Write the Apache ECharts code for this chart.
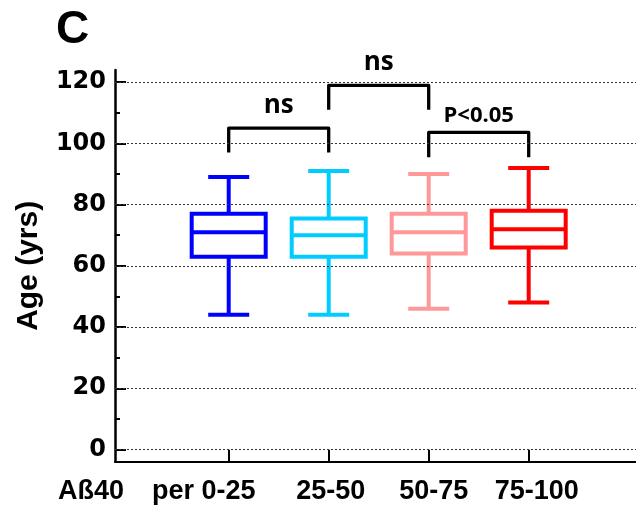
<!DOCTYPE html>
<html>
<head>
<meta charset="utf-8">
<script src="https://cdn.jsdelivr.net/npm/echarts@6/dist/echarts.min.js"></script>
<style>
html,body{margin:0;padding:0;background:#fff;}
#main{width:636px;height:510px;}
</style>
</head>
<body>
<div id="main"></div>
<script>
// ---- data ----
const categories = ['per 0-25', '25-50', '50-75', '75-100'];
const groupPos = [1, 2, 3, 4];
const boxColors = ['#0000FF', '#00CCFF', '#FF9999', '#FF0000'];
// [min, Q1, median, Q3, max]
const boxMin    = [44, 44, 46, 48];
const boxQ1     = [63, 63, 64, 66];
const boxMedian = [71, 70, 71, 72];
const boxQ3     = [77, 75.5, 77, 78];
const boxMax    = [89, 91, 90, 92];
const yTicks = [0, 20, 40, 60, 80, 100, 120];
const yMinorTicks = [10, 30, 50, 70, 90, 110];
// brackets: [from group, to group, leg bottom, top, label]
const bracketFrom  = [1, 2, 3];
const bracketTo    = [2, 3, 4];
const bracketLeg   = [97, 111, 95.5];
const bracketTop   = [105, 119, 103.6];
const bracketLabel = ['ns', 'ns', 'P<0.05'];

const boxData = groupPos.map((x, i) => [x, boxMin[i], boxQ1[i], boxMedian[i], boxQ3[i], boxMax[i]]);
const bracketData = bracketFrom.map((f, i) => [f, bracketTo[i], bracketLeg[i], bracketTop[i], bracketLabel[i]]);

const chart = echarts.init(document.getElementById('main'), null, {renderer: 'canvas'});

function renderBox(params, api) {
  const i = params.dataIndex;
  const x = api.value(0);
  const pMin = api.coord([x, api.value(1)]);
  const pQ1 = api.coord([x, api.value(2)]);
  const pMed = api.coord([x, api.value(3)]);
  const pQ3 = api.coord([x, api.value(4)]);
  const pMax = api.coord([x, api.value(5)]);
  const bw = api.size([0.74, 0])[0];
  const cw = api.size([0.41, 0])[0];
  const cx = pMed[0];
  const st = {stroke: boxColors[i], lineWidth: 4, fill: null};
  return {
    type: 'group',
    children: [
      {type: 'line', shape: {x1: cx, y1: pMax[1], x2: cx, y2: pQ3[1]}, style: st},
      {type: 'line', shape: {x1: cx, y1: pQ1[1], x2: cx, y2: pMin[1]}, style: st},
      {type: 'line', shape: {x1: cx - cw / 2, y1: pMax[1], x2: cx + cw / 2, y2: pMax[1]}, style: st},
      {type: 'line', shape: {x1: cx - cw / 2, y1: pMin[1], x2: cx + cw / 2, y2: pMin[1]}, style: st},
      {type: 'rect', shape: {x: cx - bw / 2, y: pQ3[1], width: bw, height: pQ1[1] - pQ3[1]}, style: {stroke: boxColors[i], lineWidth: 4, fill: '#fff'}},
      {type: 'line', shape: {x1: cx - bw / 2, y1: pMed[1], x2: cx + bw / 2, y2: pMed[1]}, style: st}
    ]
  };
}

function renderBracket(params, api) {
  const x1 = api.value(0), x2 = api.value(1), yl = api.value(2), yt = api.value(3);
  const a = api.coord([x1, yl]);
  const b = api.coord([x1, yt]);
  const c = api.coord([x2, yt]);
  const d = api.coord([x2, yl]);
  const label = bracketLabel[params.dataIndex];
  const isP = label.indexOf('P') === 0;
  return {
    type: 'group',
    children: [
      {type: 'polyline', shape: {points: [a, b, c, d]}, style: {stroke: '#000', lineWidth: 3.3, fill: null, lineJoin: 'round'}},
      {type: 'text', style: {
        x: (b[0] + c[0]) / 2, y: b[1] - (isP ? 6 : 10),
        text: label, align: 'center', verticalAlign: 'bottom',
        font: isP ? 'bold 22px "Open Sans"' : 'bold 26px "Open Sans"', fill: '#000'
      }}
    ]
  };
}

const labelRich = {fontFamily: '"Liberation Sans"', fontWeight: 'bold', fontSize: 27, color: '#000'};

const option = {
  animation: false,
  backgroundColor: '#fff',
  grid: {left: 115, right: 0, top: 70, bottom: 48.3, containLabel: false},
  xAxis: {
    type: 'value', min: -0.137, max: 5.073,
    axisLine: {show: true, onZero: false, lineStyle: {color: '#000', width: 2.2}},
    axisTick: {show: true, inside: true, length: 12, customValues: groupPos, lineStyle: {color: '#000', width: 2}},
    axisLabel: {
      show: true, customValues: groupPos, margin: 16,
      formatter: function (v) {
        const idx = groupPos.indexOf(v);
        const key = ['a', 'b', 'c', 'd'][idx];
        return '{' + key + '|' + categories[idx] + '}';
      },
      rich: {
        a: Object.assign({padding: [0, 50, 0, 0]}, labelRich),
        b: Object.assign({padding: [0, 0, 0, 4]}, labelRich),
        c: Object.assign({padding: [0, 0, 0, 10]}, labelRich),
        d: Object.assign({padding: [0, 0, 0, 16]}, labelRich)
      }
    },
    splitLine: {show: false}
  },
  yAxis: [{
    type: 'value', min: -4, max: 124, position: 'left',
    name: 'Age (yrs)', nameLocation: 'middle', nameGap: 71, nameRotate: 90,
    nameTextStyle: {fontFamily: '"Liberation Sans"', fontWeight: 'bold', fontSize: 30, color: '#000'},
    axisLine: {show: true, onZero: false, lineStyle: {color: '#000', width: 2.5}},
    axisTick: {show: true, inside: true, length: 11, customValues: yTicks, lineStyle: {color: '#000', width: 2}},
    axisLabel: {show: true, customValues: yTicks, margin: 9, fontFamily: '"DejaVu Sans"', fontWeight: 'bold', fontSize: 24, color: '#000'},
    splitLine: {show: false}
  }, {
    type: 'value', min: -4, max: 124, position: 'left', offset: 0,
    axisLine: {show: false, onZero: false},
    axisTick: {show: true, inside: true, length: 5, customValues: yMinorTicks, lineStyle: {color: '#000', width: 2}},
    axisLabel: {show: false},
    splitLine: {show: false}
  }],
  graphic: [
    {type: 'text', left: 56, top: 7, style: {text: 'C', font: 'bold 46px "Liberation Sans"', fill: '#000'}},
    {type: 'text', left: 58, top: 478, style: {text: 'Aß40', font: 'bold 27px "Liberation Sans"', fill: '#000'}}
  ],
  series: [
    {
      type: 'line', data: [], xAxisIndex: 0, yAxisIndex: 0, silent: true,
      markLine: {
        silent: true, symbol: 'none', label: {show: false},
        lineStyle: {color: '#333', width: 1, type: [2, 2]},
        data: yTicks.map(v => ({yAxis: v}))
      }
    },
    {type: 'custom', renderItem: renderBox, data: boxData, z: 3, silent: true,
     encode: {x: 0, y: [1, 2, 3, 4, 5]}},
    {type: 'custom', renderItem: renderBracket, data: bracketData, z: 4, silent: true,
     encode: {x: [0, 1], y: [2, 3]}}
  ]
};
chart.setOption(option);
</script>
</body>
</html>
